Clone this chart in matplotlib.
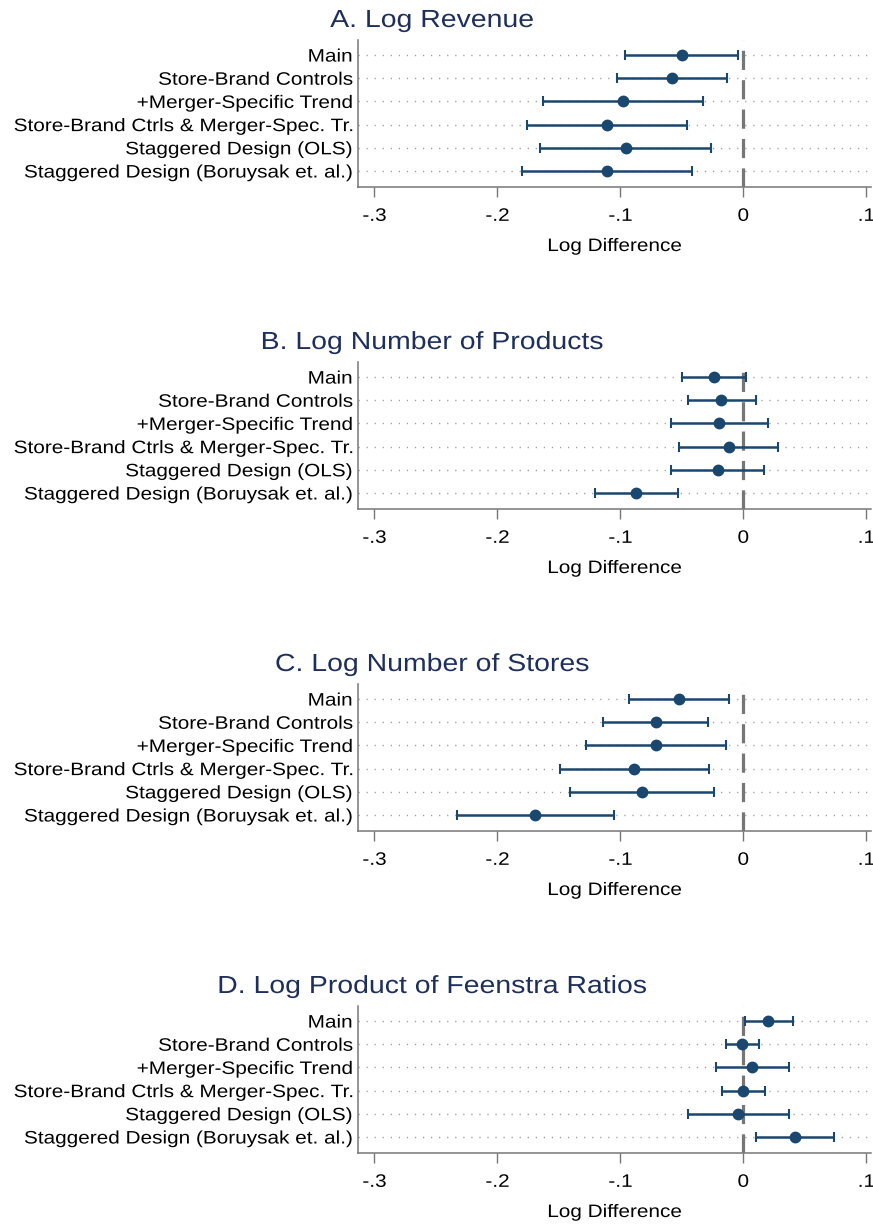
import matplotlib
matplotlib.use("Agg")
import matplotlib.pyplot as plt
import matplotlib.patheffects as pe
from matplotlib.transforms import Affine2D
import numpy as np

plt.rcParams['font.family'] = ['Liberation Sans', 'DejaVu Sans']

specs = [
    "Main",
    "Store-Brand Controls",
    "+Merger-Specific Trend",
    "Store-Brand Ctrls & Merger-Spec. Tr.",
    "Staggered Design (OLS)",
    "Staggered Design (Boruysak et. al.)",
]

titles = [
    "A. Log Revenue",
    "B. Log Number of Products",
    "C. Log Number of Stores",
    "D. Log Product of Feenstra Ratios",
]

# point estimates and 95% CI bounds, one list per panel
revenue_est = [-0.050, -0.058, -0.098, -0.111, -0.095, -0.111]
revenue_lo = [-0.096, -0.103, -0.163, -0.176, -0.165, -0.180]
revenue_hi = [-0.004, -0.013, -0.033, -0.046, -0.026, -0.042]

products_est = [-0.024, -0.018, -0.020, -0.012, -0.021, -0.087]
products_lo = [-0.050, -0.045, -0.059, -0.052, -0.059, -0.121]
products_hi = [0.002, 0.010, 0.020, 0.028, 0.017, -0.053]

stores_est = [-0.052, -0.071, -0.071, -0.089, -0.082, -0.169]
stores_lo = [-0.093, -0.114, -0.128, -0.149, -0.141, -0.233]
stores_hi = [-0.012, -0.029, -0.014, -0.028, -0.024, -0.105]

feenstra_est = [0.020, -0.001, 0.007, 0.000, -0.004, 0.042]
feenstra_lo = [0.001, -0.014, -0.022, -0.017, -0.045, 0.010]
feenstra_hi = [0.040, 0.013, 0.037, 0.018, 0.037, 0.074]

xticks = [-0.3, -0.2, -0.1, 0, 0.1]
xticklabels = ["-.3", "-.2", "-.1", "0", ".1"]

panels = [
    (revenue_est, revenue_lo, revenue_hi),
    (products_est, products_lo, products_hi),
    (stores_est, stores_lo, stores_hi),
    (feenstra_est, feenstra_lo, feenstra_hi),
]


# the source image is a bit wider than tall, text looks stretched sideways
class StretchX(pe.AbstractPathEffect):
    def __init__(self, sx, anchor="center"):
        super().__init__()
        self.sx = sx
        self.anchor = anchor

    def draw_path(self, renderer, gc, tpath, affine, rgbFace=None):
        ext = tpath.get_extents(affine)
        if self.anchor == "right":
            x0 = ext.x1
        elif self.anchor == "left":
            x0 = ext.x0
        else:
            x0 = (ext.x0 + ext.x1) / 2
        aff = affine + Affine2D().translate(-x0, 0).scale(self.sx, 1).translate(x0, 0)
        renderer.draw_path(gc, tpath, aff, rgbFace)


SX = 1.15
W, H = 873, 1224
fig = plt.figure(figsize=(W / 100, H / 100), dpi=100)

navy = "#1a476f"
title_col = "#1f2f5c"
gray = "#767676"

ypos = np.arange(1, len(specs) + 1)

for i, (est, lo, hi) in enumerate(panels):
    off = 322 * i
    top, bot = 40 + off, 187 + off
    ax = fig.add_axes([358 / W, 1 - bot / H, (871 - 358) / W, (bot - top) / H])

    est = np.array(est)
    xerr = [est - np.array(lo), np.array(hi) - est]

    for y in ypos:
        ax.axhline(y, color="#9e9e9e", lw=1.0, ls=(0, (0.9, 4.9)), zorder=1)
    ax.axvline(0, color=gray, lw=2.3, dashes=(6.0, 3.2), zorder=3)
    ax.errorbar(est, ypos, xerr=xerr, fmt="o", color=navy, ms=7.5,
                elinewidth=1.8, capsize=3.6, capthick=1.5, zorder=4)

    ax.set_xlim(-0.3133, 0.1038)
    ax.set_ylim(6.69, 0.35)
    ax.set_yticks(ypos)
    ax.set_yticklabels(specs, fontsize=13)
    ax.tick_params(axis="y", length=0, pad=4)
    ax.set_xticks(xticks)
    ax.set_xticklabels(xticklabels, fontsize=13)
    ax.tick_params(axis="x", length=7, width=1.0, color=gray, pad=8)
    xl = ax.set_xlabel("Log Difference", fontsize=13, labelpad=9.5)
    xl.set_path_effects([StretchX(SX)])

    for lab in ax.get_yticklabels():
        lab.set_path_effects([StretchX(SX, "right")])
    for lab in ax.get_xticklabels():
        lab.set_path_effects([StretchX(SX)])

    for s in ["top", "right"]:
        ax.spines[s].set_visible(False)
    for s in ["left", "bottom"]:
        ax.spines[s].set_color(gray)
        ax.spines[s].set_linewidth(1.1)

    t = fig.text(432 / W, 1 - (27 + off) / H, titles[i], ha="center", va="baseline",
                 fontsize=17.8, color=title_col)
    t.set_path_effects([StretchX(SX)])

fig.savefig("out.png", dpi=100)
